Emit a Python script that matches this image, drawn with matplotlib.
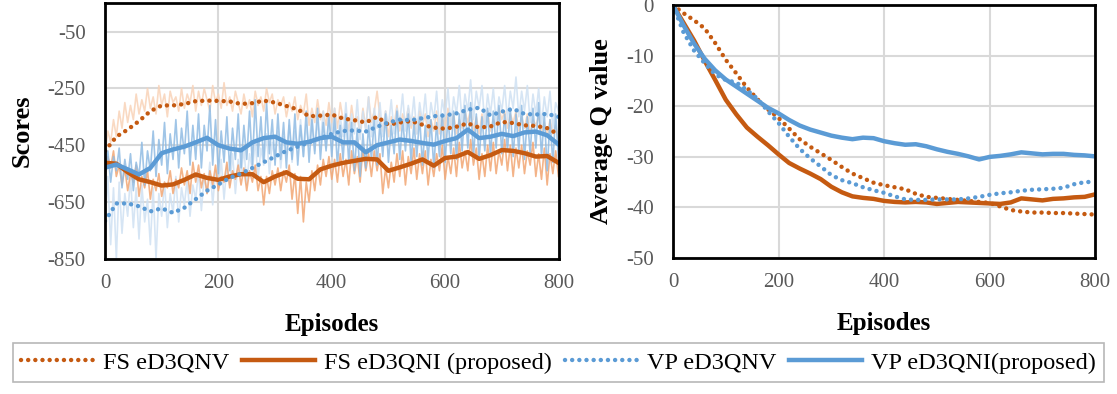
import numpy as np
import matplotlib.pyplot as plt

plt.rcParams["font.family"] = ["Liberation Serif", "DejaVu Serif"]
plt.rcParams["axes.unicode_minus"] = False

# ---- data: scores panel (raw every 5 episodes, averages every 20) ----
ep_raw = np.arange(0, 801, 5)
ep = np.arange(0, 801, 20)

fs_v_raw = [-480, -400, -440, -360, -420, -330, -390, -300, -370, -310, -360, -270, -340, -290, -330, -250,
            -320, -280, -340, -240, -310, -270, -350, -260, -300, -280, -330, -250, -320, -270, -300, -240,
            -330, -260, -310, -250, -290, -330, -240, -300, -270, -320, -230, -310, -280, -330, -260, -300,
            -340, -270, -320, -290, -350, -260, -310, -280, -330, -250, -300, -270, -340, -290, -310, -280,
            -350, -300, -330, -280, -360, -310, -340, -270, -380, -320, -370, -290, -360, -330, -380, -300,
            -370, -320, -390, -300, -360, -340, -400, -310, -380, -350, -410, -320, -390, -280, -370, -330,
            -260, -350, -400, -330, -420, -350, -380, -310, -400, -340, -370, -320, -390, -350, -410, -330,
            -380, -340, -420, -360, -400, -330, -410, -350, -390, -320, -380, -340, -410, -360, -390, -330,
            -370, -320, -400, -350, -410, -340, -380, -330, -400, -360, -380, -320, -360, -330, -390, -340,
            -370, -330, -400, -350, -390, -340, -410, -360, -380, -350, -400, -370, -420, -360, -410, -380,
            -430]
fs_i_raw = [-560, -490, -530, -470, -560, -520, -590, -530, -610, -550, -580, -520, -630, -560, -600, -540,
            -640, -570, -610, -550, -630, -580, -600, -540, -620, -570, -600, -530, -590, -540, -620, -510,
            -580, -520, -600, -550, -620, -540, -590, -520, -610, -560, -580, -510, -600, -540, -570, -520,
            -590, -530, -610, -540, -580, -520, -610, -560, -660, -560, -620, -540, -590, -530, -610, -540,
            -580, -520, -640, -550, -690, -560, -720, -580, -650, -540, -610, -520, -590, -500, -560, -490,
            -570, -500, -580, -480, -560, -500, -590, -470, -550, -490, -580, -460, -540, -480, -560, -470,
            -540, -480, -620, -530, -600, -510, -580, -480, -560, -470, -590, -490, -550, -460, -570, -480,
            -550, -470, -590, -500, -560, -480, -540, -450, -570, -490, -550, -460, -560, -440, -530, -470,
            -540, -430, -520, -460, -570, -480, -560, -450, -540, -440, -550, -470, -520, -430, -540, -450,
            -560, -460, -530, -450, -550, -470, -520, -440, -560, -480, -570, -460, -590, -480, -550, -470,
            -560]
vp_v_raw = [-720, -560, -800, -600, -850, -580, -760, -620, -700, -560, -740, -600, -780, -590, -720, -640,
            -800, -600, -850, -620, -700, -580, -740, -620, -690, -560, -720, -600, -660, -570, -700, -590,
            -640, -540, -680, -560, -620, -510, -660, -540, -600, -500, -640, -520, -590, -480, -620, -500,
            -560, -460, -590, -480, -540, -430, -570, -460, -520, -410, -550, -440, -500, -400, -530, -420,
            -480, -380, -510, -400, -460, -360, -490, -380, -450, -340, -470, -370, -440, -330, -460, -360,
            -430, -320, -450, -350, -420, -300, -440, -340, -410, -290, -430, -330, -400, -280, -420, -320,
            -390, -300, -420, -330, -380, -290, -410, -320, -370, -270, -400, -310, -380, -280, -410, -300,
            -370, -270, -400, -300, -360, -260, -390, -290, -350, -250, -380, -280, -340, -240, -370, -270,
            -330, -220, -360, -260, -320, -240, -380, -270, -340, -250, -370, -280, -330, -240, -360, -260,
            -320, -210, -350, -260, -330, -240, -370, -270, -340, -250, -380, -280, -350, -260, -390, -300,
            -330]
vp_i_raw = [-560, -470, -580, -490, -540, -460, -600, -500, -570, -480, -610, -510, -560, -440, -590, -470,
            -540, -400, -560, -430, -520, -370, -550, -410, -500, -360, -530, -390, -480, -330, -520, -380,
            -500, -340, -530, -380, -470, -310, -520, -360, -550, -400, -510, -350, -540, -390, -500, -340,
            -530, -380, -500, -330, -520, -290, -490, -350, -510, -300, -480, -360, -520, -340, -500, -370,
            -530, -360, -500, -340, -520, -380, -490, -330, -510, -360, -480, -320, -500, -370, -470, -340,
            -490, -350, -520, -380, -500, -340, -510, -370, -540, -390, -560, -410, -530, -380, -500, -360,
            -520, -370, -490, -340, -510, -380, -480, -330, -500, -360, -470, -340, -510, -370, -490, -350,
            -520, -380, -500, -360, -530, -370, -490, -340, -510, -350, -480, -330, -500, -340, -470, -310,
            -460, -300, -490, -340, -500, -350, -470, -320, -490, -330, -460, -310, -480, -340, -470, -320,
            -490, -340, -470, -310, -500, -350, -480, -320, -460, -300, -490, -340, -540, -360, -510, -340,
            -500]

fs_v = [-470, -420, -395, -365, -330, -310, -310, -305, -295, -293, -294, -296, -305, -302, -293, -300,
        -312, -324, -348, -346, -342, -356, -362, -370, -350, -378, -370, -365, -378, -388, -392, -385,
        -373, -388, -384, -368, -372, -380, -382, -390, -412]
fs_i = [-512, -515, -545, -570, -580, -592, -588, -572, -553, -565, -572, -560, -552, -552, -580, -560,
        -545, -568, -570, -535, -522, -512, -505, -498, -500, -540, -528, -515, -500, -522, -495, -490,
        -474, -498, -485, -467, -470, -478, -490, -488, -512]
vp_v = [-717, -655, -655, -665, -683, -672, -688, -670, -640, -610, -588, -565, -550, -530, -510, -490,
        -470, -455, -440, -425, -410, -400, -398, -402, -385, -370, -360, -362, -355, -348, -345, -338,
        -325, -318, -345, -332, -322, -340, -342, -340, -350]
vp_i = [-529, -518, -535, -553, -530, -478, -465, -455, -440, -424, -450, -462, -468, -440, -425, -420,
        -440, -445, -438, -425, -420, -440, -440, -475, -450, -440, -430, -435, -442, -448, -435, -425,
        -395, -425, -420, -410, -418, -405, -402, -415, -447]

# ---- data: average Q value panel ----
q_fs_v = [0, -1.6, -3.0, -4.6, -7.5, -10.8, -13.5, -16.3, -18.6, -20.6, -22.3, -24.4, -26.5, -28.0, -29.3,
          -30.6, -32.0, -33.3, -34.2, -35.1, -35.6, -36.0, -36.4, -37.3, -37.9, -38.1, -38.3, -38.5, -38.7,
          -38.9, -39.1, -39.8, -40.5, -40.8, -41.0, -41.0, -41.1, -41.1, -41.2, -41.3, -41.4]
q_fs_i = [0, -3.5, -7.0, -11.0, -14.8, -18.7, -21.6, -24.2, -26.0, -27.7, -29.5, -31.2, -32.3, -33.3, -34.4,
          -35.9, -37.0, -37.8, -38.1, -38.3, -38.7, -38.9, -39.0, -38.9, -39.0, -39.3, -39.1, -38.9, -39.0,
          -39.1, -39.2, -39.3, -39.0, -38.2, -38.4, -38.6, -38.3, -38.2, -38.0, -37.9, -37.4]
q_vp_v = [0, -5.4, -9.0, -11.5, -13.7, -14.8, -15.3, -16.8, -18.5, -21.0, -23.3, -26.0, -28.4, -30.3, -31.9,
          -33.6, -34.6, -35.2, -36.0, -36.6, -37.1, -37.8, -38.4, -38.5, -38.5, -38.4, -38.4, -38.4, -38.2,
          -37.9, -37.5, -37.2, -37.0, -36.7, -36.5, -36.4, -36.3, -36.1, -35.4, -35.0, -34.9]
q_vp_i = [0, -4.0, -7.6, -10.6, -12.9, -14.7, -16.1, -17.5, -18.9, -20.3, -21.4, -22.7, -23.8, -24.6, -25.2,
          -25.8, -26.2, -26.5, -26.2, -26.3, -26.9, -27.3, -27.6, -27.5, -27.9, -28.5, -29.0, -29.4, -29.9,
          -30.5, -30.0, -29.8, -29.5, -29.1, -29.3, -29.5, -29.4, -29.4, -29.6, -29.7, -29.9]

labels = ["FS eD3QNV", "FS eD3QNI (proposed)", "VP eD3QNV", "VP eD3QNI(proposed)"]

orange = "#C55A11"
blue = "#5B9BD5"
dots = (0, (0.01, 1.6))
tick_col = "#595959"

fig = plt.figure(figsize=(11.17, 3.94), dpi=100)
ax1 = fig.add_axes([0.094, 0.343, 0.406, 0.649])
ax2 = fig.add_axes([0.6025, 0.345, 0.378, 0.642])


def style(ax):
    ax.grid(True, color="#D9D9D9", lw=1.5)
    ax.set_axisbelow(True)
    for s in ax.spines.values():
        s.set_color("black")
        s.set_linewidth(2)
    ax.tick_params(length=0, colors=tick_col, labelsize=15)
    ax.tick_params(axis="y", pad=14)
    ax.tick_params(axis="x", pad=11)
    ax.set_xlim(0, 800)
    ax.set_xticks([0, 200, 400, 600, 800])
    ax.set_xlabel("Episodes", fontsize=18, fontweight="bold", labelpad=14)


# scores panel
ax1.plot(ep_raw, fs_v_raw, color="#F9D3B8", lw=1.2, alpha=0.85)
ax1.plot(ep_raw, vp_v_raw, color="#CFE1F3", lw=1.2, alpha=0.85)
ax1.plot(ep_raw, fs_i_raw, color="#F2A673", lw=1.2, alpha=0.85)
ax1.plot(ep_raw, vp_i_raw, color="#8FBBE3", lw=1.2, alpha=0.85)
ax1.plot(ep, fs_v, color=orange, lw=3.2, linestyle=dots, dash_capstyle="round")
ax1.plot(ep, fs_i, color=orange, lw=3.2)
ax1.plot(ep, vp_v, color=blue, lw=3.2, linestyle=dots, dash_capstyle="round")
ax1.plot(ep, vp_i, color=blue, lw=3.2)
ax1.set_ylim(-850, 50)
ax1.set_yticks([-850, -650, -450, -250, -50])
style(ax1)
ax1.set_ylabel("Scores", fontsize=19, fontweight="bold", labelpad=10)

# average Q panel
h1, = ax2.plot(ep, q_fs_v, color=orange, lw=3.2, linestyle=dots, dash_capstyle="round")
h2, = ax2.plot(ep, q_fs_i, color=orange, lw=3.2)
h3, = ax2.plot(ep, q_vp_v, color=blue, lw=3.2, linestyle=dots, dash_capstyle="round")
h4, = ax2.plot(ep, q_vp_i, color=blue, lw=3.2)
ax2.set_ylim(-50, 0)
ax2.set_yticks([-50, -40, -30, -20, -10, 0])
style(ax2)
ax2.set_ylabel("Average Q value", fontsize=19, fontweight="bold", labelpad=9)

leg = fig.legend([h1, h2, h3, h4], labels, loc="center", bbox_to_anchor=(0.5, 0.079), ncol=4,
                 fontsize=17.5, frameon=True, fancybox=False, edgecolor="#A6A6A6",
                 handlelength=3.0, columnspacing=0.55, handletextpad=0.35, borderpad=0.35)
leg.get_frame().set_linewidth(1.2)

plt.savefig("out.png", dpi=100)
